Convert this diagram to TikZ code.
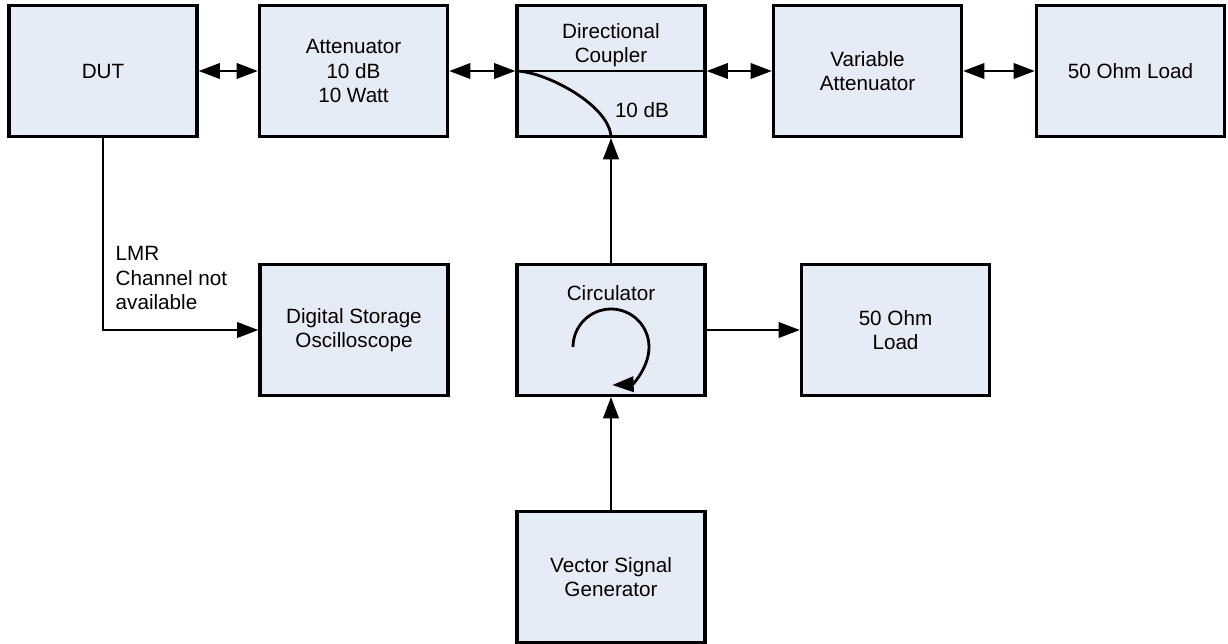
\documentclass[tikz,border=0pt]{standalone}
\usepackage{fontspec}
\setmainfont{Liberation Sans}
\usetikzlibrary{arrows.meta,positioning}
\definecolor{boxfill}{RGB}{230,236,246}

\begin{document}
\begin{tikzpicture}[x=0.75pt,y=-0.75pt,
    box/.style={draw=black,line width=2.4pt,fill=boxfill,minimum width=141pt,minimum height=98pt,align=center,font=\fontsize{15.5pt}{18.4pt}\selectfont},
    lbl/.style={align=center,font=\fontsize{15.5pt}{18.4pt}\selectfont},
    conn/.style={line width=2.1pt},
    arr/.style={conn,-{Triangle[length=16pt,width=11.5pt]}},
    dbl/.style={conn,{Triangle[length=16pt,width=11.5pt]}-{Triangle[length=16pt,width=11.5pt]}}]
    \useasboundingbox (0,0) rectangle (1228,643);

    % Top row
    \node[box] (dut) at (103,71) {DUT};
    \node[box] (att) at (353.5,71) {Attenuator\\10 dB\\10 Watt};
    \node[box] (dc) at (611,71) {};
    \node[lbl] (dctext) at (611,45) {Directional\\Coupler};
    \node[lbl] (dcdb) at (642,110) {10 dB};
    \node[box] (va) at (867.5,71) {Variable\\Attenuator};
    \node[box] (load) at (1130.5,71) {50 Ohm Load};

    % Middle row
    \node[box] (dso) at (354,330) {Digital Storage\\Oscilloscope};
    \node[box] (circ) at (611,330) {};
    \node[lbl] (circtext) at (611,293) {Circulator};
    \node[box] (loadb) at (895.5,330) {50 Ohm\\Load};

    % Bottom
    \node[box] (vsg) at (611,577) {Vector Signal\\Generator};

    % Through path of the coupler
    \draw[conn] (dc.west) -- (dc.east);
    \draw[conn] (dc.west) .. controls +(30,0) and +(0,-32) .. (dc.south);

    % Circulator symbol
    \coordinate (circstart) at (573,347);
    \draw[arr] (circstart) arc[start angle=180,end angle=448,radius=38];

    % Connections
    \draw[dbl] (dut) -- (att);
    \draw[dbl] (att) -- (dc.west);
    \draw[dbl] (dc.east) -- (va);
    \draw[dbl] (va) -- (load);
    \draw[arr] (circ) -- (dc.south);
    \draw[arr] (vsg) -- (circ);
    \draw[arr] (circ) -- (loadb);
    \draw[arr] (dut.south) |- (dso.west);
    \node[lbl,align=left,anchor=west] (lmr) at (111,278) {LMR\\Channel not\\available};
\end{tikzpicture}
\end{document}
